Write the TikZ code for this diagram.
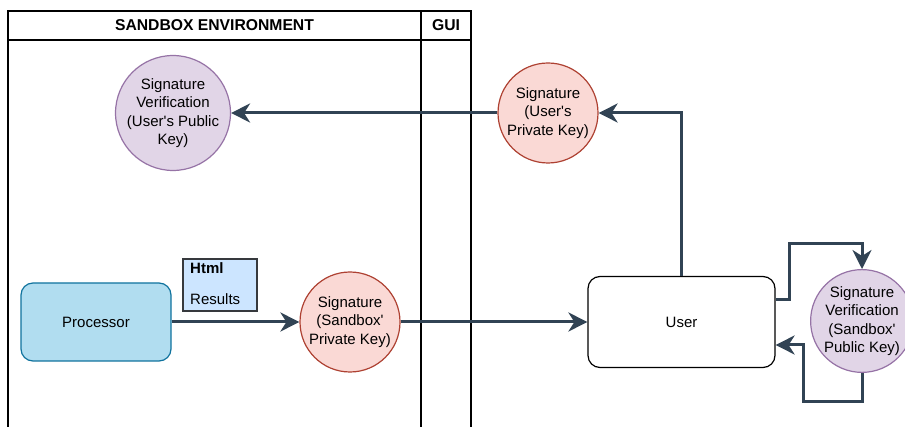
\documentclass[tikz,border=0pt]{standalone}
\usepackage{fontspec}
\setmainfont{Liberation Sans}
\usetikzlibrary{arrows.meta}
\definecolor{edgec}{HTML}{314354}
\definecolor{procfill}{HTML}{B1DDF0}
\definecolor{procline}{HTML}{10739E}
\definecolor{htmlfill}{HTML}{CCE5FF}
\definecolor{htmlline}{HTML}{36393D}
\definecolor{redfill}{HTML}{FAD9D5}
\definecolor{redline}{HTML}{AE4132}
\definecolor{purfill}{HTML}{E1D5E7}
\definecolor{purline}{HTML}{9673A6}
\newcommand{\apos}{\textquotesingle}
\tikzset{
  txt/.style={font=\fontsize{15}{18.5}\selectfont, align=center},
  hdr/.style={font=\fontsize{15.7}{18}\selectfont\bfseries, inner sep=0pt},
  lane/.style={draw=black, line width=1.2pt},
  procbox/.style={txt, draw=procline, fill=procfill, line width=1.2pt, rounded corners=12pt,
    minimum width=150pt, minimum height=78pt, inner sep=0pt},
  userbox/.style={txt, draw=black, fill=white, line width=1.2pt, rounded corners=12pt,
    minimum width=187pt, minimum height=91pt, inner sep=0pt},
  htmlbox/.style={draw=htmlline, fill=htmlfill, line width=1.2pt,
    minimum width=74pt, minimum height=52pt, inner sep=0pt},
  redcirc/.style={txt, circle, draw=redline, fill=redfill, line width=1.2pt,
    minimum size=100pt, inner sep=0pt},
  purcirc/.style={txt, circle, draw=purline, fill=purfill, line width=1.2pt,
    minimum size=100pt, inner sep=0pt},
  flow/.style={draw=edgec, line width=3pt,
    -{Stealth[length=19pt, width=19pt, inset=6pt]}},
}
\begin{document}
\begin{tikzpicture}[x=1pt, y=-1pt]
\useasboundingbox (0,0) rectangle (905,427);
\clip (0,0) rectangle (905,427);
\fill[white] (0,0) rectangle (905,427);

% swimlane pool
\draw[lane] (8,11) rectangle (471,445);
\draw[lane] (8,40) -- (471,40);
\draw[lane] (421,11) -- (421,445);
\node[hdr] (sbhead) at (214.5,25.5) {SANDBOX ENVIRONMENT};
\node[hdr] (guihead) at (446,25.5) {GUI};

% nodes
\node[purcirc] (verusr) at (173,113) {Signature\\Verification\\(User\apos s Public\\Key)};
\node[redcirc] (sigusr) at (548,113) {Signature\\(User\apos s\\Private Key)};
\node[procbox] (proc) at (96,322) {Processor};
\node[htmlbox] (html) at (220,285) {};
\node[anchor=base west, inner sep=0pt, font=\fontsize{15}{18}\selectfont\bfseries] (htmlt) at (190,274) {Html};
\node[anchor=base west, inner sep=0pt, font=\fontsize{15}{18}\selectfont] (htmlr) at (190,305) {Results};
\node[redcirc] (sigsb) at (350,322) {Signature\\(Sandbox\apos\\Private Key)};
\node[userbox] (user) at (681.5,322) {User};
\node[purcirc] (versb) at (862,321) {Signature\\Verification\\(Sandbox\apos\\Public Key)};

% connectors
\draw[flow] (proc) -- (sigsb);
\draw[flow] (sigsb) -- (user);
\draw[flow] (user.north) |- (sigusr.east);
\draw[flow] (sigusr) -- (verusr);
\draw[flow] ([yshift=22pt]user.east) -| (789,244) -| (versb.north);
\draw[flow] (versb.south) |- (803,402) |- ([yshift=-23pt]user.east);
\end{tikzpicture}
\end{document}
